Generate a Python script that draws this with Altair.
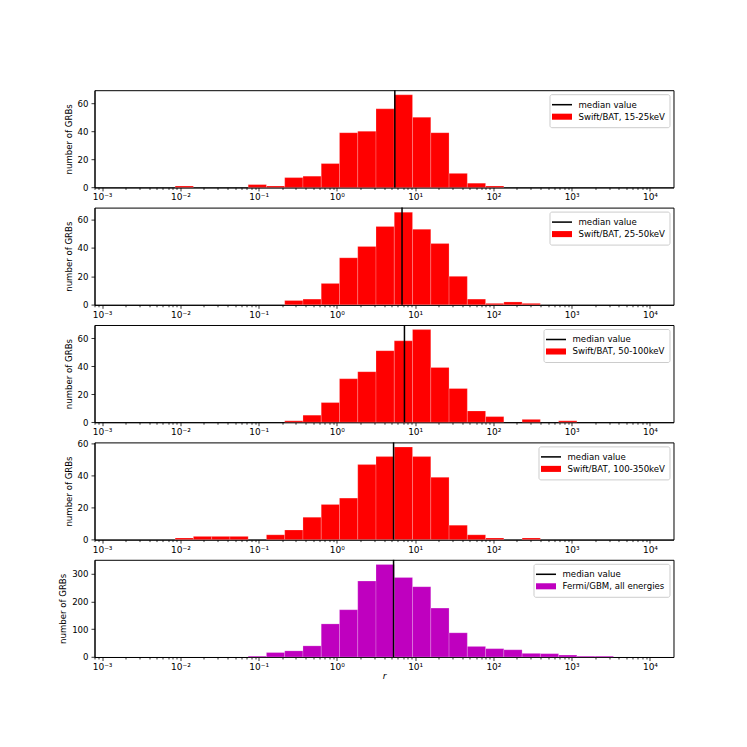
import altair as alt
import pandas as pd

# ---------------- data ----------------
N_BINS = 30
LOG_MIN, LOG_MAX = -3, 4
BIN_EDGES = [10 ** (LOG_MIN + k * (LOG_MAX - LOG_MIN) / N_BINS) for k in range(N_BINS + 1)]

X_MIN, X_MAX = 8e-4, 2e4

LABELS = [
    "Swift/BAT, 15-25keV",
    "Swift/BAT, 25-50keV",
    "Swift/BAT, 50-100keV",
    "Swift/BAT, 100-350keV",
    "Fermi/GBM, all energies",
]
COLORS = ["#ff0000", "#ff0000", "#ff0000", "#ff0000", "#bf00bf"]
MEDIANS = [5.5, 6.8, 7.3, 5.3, 5.3]

COUNTS_15_25 = [0, 0, 0, 0, 1, 0, 0, 0, 2, 1, 7, 8, 17, 39, 40,
                56, 66, 50, 39, 10, 3, 1, 0, 0, 0, 0, 0, 0, 0, 0]
COUNTS_25_50 = [0, 0, 0, 0, 0, 0, 0, 0, 0, 0, 3, 4, 15, 33, 41,
                55, 65, 53, 43, 20, 4, 1, 2, 1, 0, 0, 0, 0, 0, 0]
COUNTS_50_100 = [0, 0, 0, 0, 0, 0, 0, 0, 0, 0, 1, 5, 14, 31, 36,
                 51, 58, 66, 39, 24, 8, 4, 0, 2, 0, 1, 0, 0, 0, 0]
COUNTS_100_350 = [0, 0, 0, 0, 1, 2, 2, 2, 0, 3, 6, 14, 22, 26, 47,
                  52, 58, 52, 39, 9, 3, 1, 0, 1, 0, 0, 0, 0, 0, 0]
COUNTS_FERMI = [0, 0, 0, 0, 0, 0, 0, 0, 3, 16, 22, 40, 119, 170, 273,
                333, 286, 253, 176, 87, 38, 30, 26, 13, 12, 7, 3, 3, 0, 0]
COUNTS = [COUNTS_15_25, COUNTS_25_50, COUNTS_50_100, COUNTS_100_350, COUNTS_FERMI]

Y_TICKS = [[0, 20, 40, 60]] * 4 + [[0, 100, 200, 300]]

MAJOR = [10.0 ** e for e in range(-3, 5)]
MINOR = [8e-4, 9e-4] + [m * 10.0 ** e for e in range(-3, 4) for m in range(2, 10)]
X_TICKS = sorted(MAJOR + MINOR)

FONT = "DejaVu Sans"
FS = 8.6
W, H, GAP = 579, 97.2, 19.4

IS_MAJOR = "abs(log(datum.value)/LN10 - round(log(datum.value)/LN10)) < 1e-6"
LABEL_EXPR = (
    IS_MAJOR + " ? ['10\u207b\u00b3','10\u207b\u00b2','10\u207b\u00b9','10\u2070',"
    "'10\u00b9','10\u00b2','10\u00b3','10\u2074'][round(log(datum.value)/LN10)+3] : ''"
)

LINE_PATH = "M-1.82,-0.14L1.82,-0.14L1.82,0.14L-1.82,0.14Z"
PATCH_PATH = "M-1.82,-0.55L1.82,-0.55L1.82,0.55L-1.82,0.55Z"


def panel(i):
    counts = COUNTS[i]
    df = pd.DataFrame({"left": BIN_EDGES[:-1], "right": BIN_EDGES[1:], "count": counts})
    df = df[df["count"] > 0]
    ymax = 1.05 * max(counts)
    last = i == len(COUNTS) - 1

    x_scale = alt.Scale(type="log", domain=[X_MIN, X_MAX], nice=False)
    y_scale = alt.Scale(domain=[0, ymax], nice=False)
    x_axis = alt.Axis(
        values=X_TICKS,
        labelExpr=LABEL_EXPR,
        tickSize={"condition": {"test": IS_MAJOR, "value": 3.5}, "value": 2},
        labelOverlap=False,
        labelFlush=False,
        labelPadding=2,
        labelFontSize=9,
        title="r" if last else "",
        titleFontStyle="italic",
        titleFontWeight="normal",
        titleFontSize=9,
        titlePadding=0,
        grid=False,
        domain=True,
        domainColor="black",
        domainWidth=1,
    )
    y_axis = alt.Axis(
        values=Y_TICKS[i],
        title="number of GRBs",
        titleFontWeight="normal",
        tickSize=3.5,
        labelPadding=3,
        titlePadding=4,
        grid=False,
        domain=True,
        domainColor="black",
        domainWidth=1,
    )
    X = alt.X("left:Q", scale=x_scale, axis=x_axis)
    Y = alt.Y("count:Q", scale=y_scale, axis=y_axis)

    bars = alt.Chart(df).mark_rect(
        color=COLORS[i], stroke="white", strokeOpacity=0.25, strokeWidth=0.8
    ).encode(x=X, x2="right:Q", y=Y, y2=alt.datum(0))

    med = alt.Chart(pd.DataFrame({"left": [MEDIANS[i]]})).mark_rule(
        color="black", strokeWidth=1.5
    ).encode(x=X)

    entries = ["median value", LABELS[i]]
    leg_df = pd.DataFrame({"entry": entries, "left": [MEDIANS[i]] * 2, "count": [0, 0]})
    leg = alt.Legend(
        title=None,
        orient="top-right",
        offset=4,
        symbolSize=121,
        symbolOpacity=1,
        symbolOffset=2,
        labelOffset=10,
        labelFont=FONT,
        labelFontSize=FS,
        labelColor="black",
        fillColor="rgba(255,255,255,0.8)",
        strokeColor="#cccccc",
        cornerRadius=2,
        padding=4,
        rowPadding=0,
    )
    legend_layer = alt.Chart(leg_df).mark_point(filled=True, opacity=0).encode(
        x=X,
        y=Y,
        color=alt.Color("entry:N", scale=alt.Scale(domain=entries, range=["black", COLORS[i]]), legend=leg),
        shape=alt.Shape("entry:N", scale=alt.Scale(domain=entries, range=[LINE_PATH, PATCH_PATH]), legend=leg),
    )

    return alt.layer(bars, med, legend_layer).properties(width=W, height=H)


chart = alt.vconcat(*[panel(i) for i in range(len(COUNTS))], spacing=GAP, bounds="flush").resolve_scale(
    x="independent", y="independent", color="independent", shape="independent"
).resolve_legend(color="independent", shape="independent").properties(
    padding={"left": 49.5, "top": 80.2, "right": 5, "bottom": 5},
    background="white",
).configure_view(
    stroke="black", strokeWidth=1
).configure_axis(
    labelFont=FONT, labelFontSize=FS, labelColor="black",
    titleFont=FONT, titleFontSize=FS, titleColor="black", titleFontWeight="normal",
    tickColor="black", tickWidth=0.8,
)

chart.save("out.html", embed_options={"renderer": "svg", "actions": False})
